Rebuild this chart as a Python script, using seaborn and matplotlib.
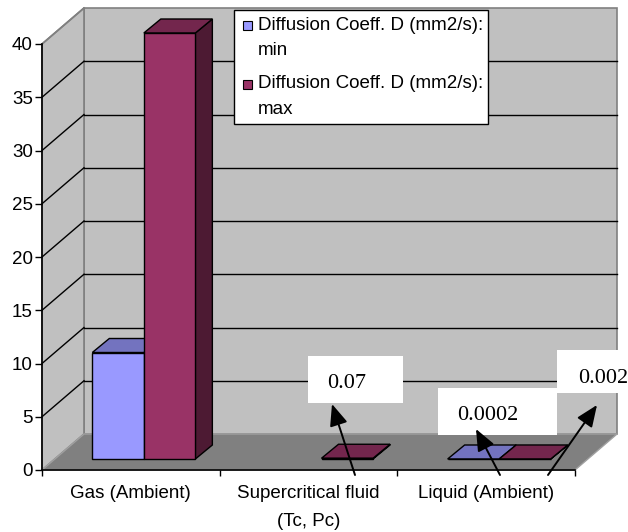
import numpy as np
import pandas as pd
import matplotlib
matplotlib.use("Agg")
import matplotlib.pyplot as plt
import seaborn as sns
import matplotlib.colors as mcolors
from matplotlib.patches import Polygon, Rectangle, Patch
from matplotlib.lines import Line2D
from matplotlib.transforms import IdentityTransform
from matplotlib.legend_handler import HandlerPatch

# ---------------- data ----------------
categories = ["Gas (Ambient)", "Supercritical fluid\n(Tc, Pc)", "Liquid (Ambient)"]
series = ["Diffusion Coeff. D (mm2/s):\nmin", "Diffusion Coeff. D (mm2/s):\nmax"]
d_min = [10, np.nan, 0.0002]
d_max = [40, 0.07, 0.002]
yticks = [0, 5, 10, 15, 20, 25, 30, 35, 40]
callout_labels = ["0.07", "0.0002", "0.002"]

c_min = "#9999FF"
c_max = "#993366"
FS = 13.5

plt.rcParams["font.family"] = ["Liberation Sans", "DejaVu Sans"]

W, H = 628, 532
fig = plt.figure(figsize=(W / 100, H / 100), dpi=100)
ID = IdentityTransform()

# front plane axes
ax = fig.add_axes([42 / W, (H - 470) / H, (575 - 42) / W, (470 - 44) / H])
ax.set_xlim(-0.5, 2.5)
ax.set_ylim(0, 40)
ax.patch.set_visible(False)
for s in ["top", "right"]:
    ax.spines[s].set_visible(False)
for s in ["left", "bottom"]:
    ax.spines[s].set_color("black")
    ax.spines[s].set_linewidth(1.2)
ax.set_yticks(yticks)
ax.tick_params(axis="y", direction="out", length=5, width=1, colors="black",
               labelsize=FS, pad=1.5)
ax.set_xticks(range(len(categories)), categories)
ax.set_xticks([-0.5, 0.5, 1.5, 2.5], minor=True)
ax.tick_params(axis="x", which="major", length=0, labelsize=FS, pad=10.5)
ax.tick_params(axis="x", which="minor", length=4.5, width=1, color="black")
for t in ax.get_xticklabels():
    t.set_linespacing(1.87)

fig.canvas.draw()
DX, DY = 42, 36
(x0, y0) = ax.transData.transform((-0.5, 0))
(x1, yt) = ax.transData.transform((2.5, 40))

# walls and floor
back = Polygon([(x0 + DX, y0 + DY), (x1 + DX, y0 + DY), (x1 + DX, yt + DY), (x0 + DX, yt + DY)],
               closed=True, facecolor="#C0C0C0", edgecolor="#808080", lw=1.2,
               transform=ID, zorder=0.2, clip_on=False)
left = Polygon([(x0, y0), (x0, yt), (x0 + DX, yt + DY), (x0 + DX, y0 + DY)],
               closed=True, facecolor="#C0C0C0", edgecolor="#808080", lw=1.2,
               transform=ID, zorder=0.2, clip_on=False)
floor = Polygon([(x0, y0), (x1, y0), (x1 + DX, y0 + DY), (x0 + DX, y0 + DY)],
                closed=True, facecolor="#808080", edgecolor="#A0A0A0", lw=1.0,
                transform=ID, zorder=0.2, clip_on=False)
for p in (back, left, floor):
    ax.add_patch(p)
for v in yticks[1:-1]:
    yy = ax.transData.transform((0, v))[1]
    ax.add_line(Line2D([x0 + DX, x1 + DX], [yy + DY, yy + DY], color="black", lw=1.0,
                       transform=ID, zorder=0.3, clip_on=False))
    ax.add_line(Line2D([x0, x0 + DX], [yy, yy + DY], color="black", lw=1.0,
                       transform=ID, zorder=0.3, clip_on=False))
ax.add_line(Line2D([x0, x0 + DX], [yt, yt + DY], color="#808080", lw=1.2,
                   transform=ID, zorder=0.3, clip_on=False))

# bar axes (front faces placed part-way into the depth)
BX, BY = 13, 11
axb = fig.add_axes([(42 + BX) / W, (H - 470 + BY) / H, (575 - 42) / W, (470 - 44) / H])
axb.set_xlim(-0.5, 2.5)
axb.set_ylim(0, 40)
axb.axis("off")
axb.patch.set_visible(False)

df = pd.DataFrame({
    "category": categories * 2,
    "series": [series[0]] * 3 + [series[1]] * 3,
    "value": d_min + d_max,
})
sns.barplot(data=df, x="category", y="value", hue="series", order=categories,
            hue_order=series, palette=[c_min, c_max], saturation=1, width=0.58,
            edgecolor="black", linewidth=1.0, errorbar=None, legend=False, ax=axb)
axb.set_xlim(-0.5, 2.5)
axb.set_ylim(0, 40)

fig.canvas.draw()
bars = [p for p in axb.patches if isinstance(p, Rectangle)]
dx, dy = 17, 14
for p in bars:
    h = p.get_height()
    if not np.isfinite(h):
        continue
    xl = p.get_x()
    w = p.get_width()
    (bx0, by0) = axb.transData.transform((xl, 0))
    (bx1, by1) = axb.transData.transform((xl + w, h))
    fc = np.array(mcolors.to_rgb(p.get_facecolor()))
    top = Polygon([(bx0, by1), (bx1, by1), (bx1 + dx, by1 + dy), (bx0 + dx, by1 + dy)],
                  closed=True, facecolor=fc * 0.75, edgecolor="black", lw=1.0,
                  transform=ID, zorder=0.9, clip_on=False)
    side = Polygon([(bx1, by0), (bx1, by1), (bx1 + dx, by1 + dy), (bx1 + dx, by0 + dy)],
                   closed=True, facecolor=fc * 0.5, edgecolor="black", lw=1.0,
                   transform=ID, zorder=0.9, clip_on=False)
    axb.add_patch(side)
    axb.add_patch(top)
    p.set_zorder(1.0)
    p.set_clip_on(False)

# legend
PITCH_PT = 24 * 0.72  # line pitch of the two-line labels, in points
def square_handle(legend, orig_handle, xdescent, ydescent, width, height, fontsize):
    return Rectangle((-xdescent + 1.7, -ydescent + height / 2 - 3.25 + PITCH_PT / 2), 6.5, 6.5)

handles = [Patch(facecolor=c_min, edgecolor="black", lw=0.8),
           Patch(facecolor=c_max, edgecolor="black", lw=0.8)]
leg = axb.legend(handles, series, loc="upper left",
                 bbox_to_anchor=(234 / W, (H - 126) / H, 254 / W, 116 / H),
                 bbox_transform=fig.transFigure, mode="expand", frameon=True,
                 fancybox=False, edgecolor="black", framealpha=1, fontsize=FS,
                 handlelength=0.61, handleheight=0.6, handletextpad=0.32,
                 labelspacing=0.87, borderpad=0.35, borderaxespad=0,
                 handler_map={Patch: HandlerPatch(patch_func=square_handle)})
leg.get_frame().set_linewidth(1.0)
for t in leg.get_texts():
    t.set_linespacing(1.65)
leg.set_zorder(10)

# callouts (boxes in pixel coordinates of the image, y measured from top)
boxes = [(308, 356, 403, 403), (438, 388, 557, 435), (557, 350, 640, 393)]
text_pos = [(327, 388), (457, 420), (578, 383)]
arrows = [((355, 475), (332, 404)), ((500, 475), (476, 429)), ((548, 475), (597, 405))]
for lab, (bx0, by0, bx1, by1), (tx, ty) in zip(callout_labels, boxes, text_pos):
    axb.add_patch(Rectangle((bx0, H - by1), bx1 - bx0, by1 - by0, facecolor="white",
                            edgecolor="none", transform=ID, zorder=5, clip_on=False))
    axb.text(tx, H - ty, lab, transform=ID, fontsize=16, ha="left", va="baseline",
             family=["Liberation Serif", "DejaVu Serif"], color="black", zorder=6)
for (tail, head) in arrows:
    axb.annotate("", xy=(head[0], H - head[1]), xytext=(tail[0], H - tail[1]),
                 xycoords="figure pixels", textcoords="figure pixels",
                 arrowprops=dict(arrowstyle="-|>,head_length=0.6,head_width=0.25",
                                 color="black", lw=1.4, mutation_scale=22,
                                 shrinkA=0, shrinkB=0),
                 zorder=7, annotation_clip=False)

fig.savefig("out.png", dpi=100)
